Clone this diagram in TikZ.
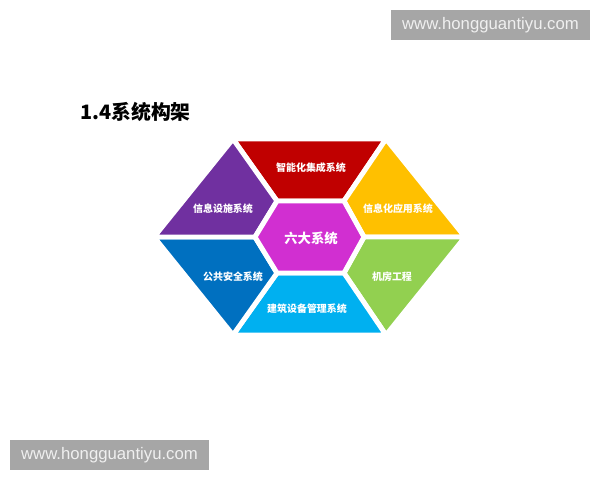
\documentclass[tikz,border=0pt]{standalone}
\usepackage{fontspec}
\setmainfont{Liberation Sans}
\newfontfamily\cjk{Noto Sans CJK SC}

\definecolor{secRed}{HTML}{C00000}
\definecolor{secYellow}{HTML}{FFC000}
\definecolor{secGreen}{HTML}{92D050}
\definecolor{secSky}{HTML}{00B0F0}
\definecolor{secBlue}{HTML}{0070C0}
\definecolor{secPurple}{HTML}{7030A0}
\definecolor{secMagenta}{HTML}{D12FD1}
\definecolor{wmGray}{HTML}{A6A6A6}

\begin{document}
\begin{tikzpicture}[x=0.025cm,y=-0.025cm]
    \tikzset{piece/.style = {draw=white,line width=3.5pt,line join=miter},
             seclabel/.style = {text=white,font=\cjk\bfseries\fontsize{7.1}{8}\selectfont},
             wmbox/.style = {fill=wmGray,text=white!94!black,minimum width=4.975cm,minimum height=0.75cm,
                             inner sep=0pt,font=\fontsize{11.9}{13}\selectfont}}
    \useasboundingbox (0,0) rectangle (600,480);

    % Corners of the outer hexagon
    \foreach \x/\y/\name in {233/139/tl, 386/139/tr, 465/237/r, 386/335/br, 233/335/bl, 154/237/l}
        \coordinate (O\name) at (\x,\y);

    % Corners of the inner hexagon
    \foreach \x/\y/\name in {277/201/tl, 344/201/tr, 364/237/r, 344/273/br, 277/273/bl, 255/237/l}
        \coordinate (I\name) at (\x,\y);

    % Six pieces round the centre
    \foreach \a/\b/\col in {tl/tr/secRed, tr/r/secYellow, r/br/secGreen, br/bl/secSky, bl/l/secBlue, l/tl/secPurple}
        \path[piece,fill=\col] (O\a) -- (O\b) -- (I\b) -- (I\a) -- cycle;

    % Centre piece
    \path[piece,fill=secMagenta] (Itl) -- (Itr) -- (Ir) -- (Ibr) -- (Ibl) -- (Il) -- cycle;

    % Labels
    \foreach \x/\y/\name/\txt in {311/168/intel/智能化集成系统, 223/209/infra/信息设施系统,
                                  398/209/appl/信息化应用系统, 233/277/safety/公共安全系统,
                                  392/277/room/机房工程, 307/309/bldg/建筑设备管理系统}
        \node[seclabel] (\name) at (\x,\y) {\txt};
    \node[seclabel,font=\cjk\bfseries\fontsize{9.5}{11}\selectfont] (six) at (311,238) {六大系统};

    % Title
    \node[anchor=west,inner sep=0pt,font=\cjk\bfseries\fontsize{14.1}{17}\selectfont] (title) at (80,112) {1.4系统构架};

    % Site marks
    \node[wmbox] (wmtop) at (490.5,25) {www.hongguantiyu.com};
    \node[wmbox] (wmbot) at (109.5,455) {www.hongguantiyu.com};
\end{tikzpicture}
\end{document}
